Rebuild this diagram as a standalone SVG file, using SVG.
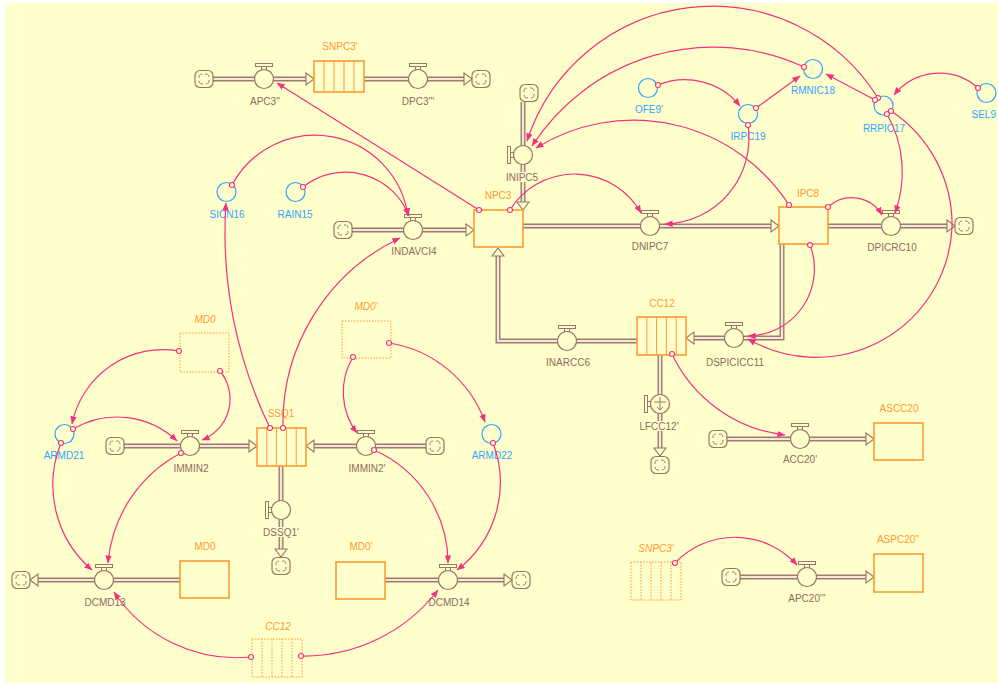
<svg xmlns="http://www.w3.org/2000/svg" xmlns:xlink="http://www.w3.org/1999/xlink" width="998" height="683" viewBox="0 0 998 683">
<style>
.po{fill:none;stroke:#A07A70;stroke-width:5;stroke-linejoin:miter}
.pi{fill:none;stroke:#F4E9D2;stroke-width:2.2;stroke-linejoin:miter}
.vc{fill:#FFFFCC;stroke:#9C7468;stroke-width:1.2}
.hd{fill:#FFFFCC;stroke:#9C7468;stroke-width:1}
.pa{fill:#FFFFCC;stroke:#9C7468;stroke-width:1.1}
.stk{fill:#FFFFCC;stroke:#FF9933;stroke-width:1.6}
.gst{fill:none;stroke:#FF9933;stroke-width:1;stroke-dasharray:1.5 1.5}
.sl{stroke:#FF9933;stroke-width:1}
.gsl{stroke:#FF9933;stroke-width:1;stroke-dasharray:1.5 1.5}
.cv{fill:none;stroke:#33A3FF;stroke-width:1.2}
.con{fill:none;stroke:#F5307F;stroke-width:1.2;marker-end:url(#ah)}
.org{fill:#FFFFCC;stroke:#F5307F;stroke-width:1.1}
text{font-family:"Liberation Sans",Arial,sans-serif;font-size:10px;text-anchor:middle}
.tf{fill:#8F6A62}
.ts{fill:#FF9933}
.tc{fill:#33A3FF}
.tg{fill:#FF9933;font-style:italic}
.lb{fill:#FFFFCC}
</style>
<defs>
<marker id="ah" viewBox="0 0 10 10" refX="9.5" refY="5" markerWidth="8" markerHeight="8" markerUnits="userSpaceOnUse" orient="auto"><path d="M0,1 L10,5 L0,9 z" fill="#F5307F"/></marker>
<g id="cloud"><rect x="-9" y="-8.5" width="18" height="17" rx="5" ry="5" fill="#FFFFCC" stroke="#9C7468" stroke-width="1.2"/><path d="M-5,-1 a3.5,3.5 0 0 1 3,-4 M1,-5 a3.5,3.5 0 0 1 4,3 M5,1 a3.5,3.5 0 0 1 -3,4 M-1,5 a3.5,3.5 0 0 1 -4,-3" fill="none" stroke="#9C7468" stroke-width="1"/></g>
<g id="vt"><rect class="hd" x="-8.5" y="-15.5" width="17" height="3"/><rect class="hd" x="-2.5" y="-12.5" width="5" height="3.5"/><circle class="vc" r="9.5"/></g>
<g id="vl"><rect class="hd" x="-15.5" y="-8.5" width="3" height="17"/><rect class="hd" x="-12.5" y="-2.5" width="3.5" height="5"/><circle class="vc" r="9.5"/></g>
<path id="arr" class="pa" d="M-8,-6 L0,0 L-8,6 z"/>
</defs>
<rect x="0" y="0" width="998" height="683" fill="#FFFFFF"/>
<rect x="5" y="3" width="993" height="680" fill="#FFFFCC"/>

<g id="pipes">
<polyline class="po" points="213,79 308,79"/><polyline class="pi" points="213,79 308,79"/>
<polyline class="po" points="364,79 466,79"/><polyline class="pi" points="364,79 466,79"/>
<polyline class="po" points="352,230 468,230"/><polyline class="pi" points="352,230 468,230"/>
<polyline class="po" points="523,226 773,226"/><polyline class="pi" points="523,226 773,226"/>
<polyline class="po" points="828,226 949,226"/><polyline class="pi" points="828,226 949,226"/>
<polyline class="po" points="782,244 782,338 692,338"/><polyline class="pi" points="782,244 782,338 692,338"/>
<polyline class="po" points="637,341 498,341 498,254"/><polyline class="pi" points="637,341 498,341 498,254"/>
<polyline class="po" points="523,102 523,204"/><polyline class="pi" points="523,102 523,204"/>
<polyline class="po" points="660,355 660,450"/><polyline class="pi" points="660,355 660,450"/>
<polyline class="po" points="727,439 868,439"/><polyline class="pi" points="727,439 868,439"/>
<polyline class="po" points="740,577 868,577"/><polyline class="pi" points="740,577 868,577"/>
<polyline class="po" points="124,446 251,446"/><polyline class="pi" points="124,446 251,446"/>
<polyline class="po" points="426,446 312,446"/><polyline class="pi" points="426,446 312,446"/>
<polyline class="po" points="281,466 281,551"/><polyline class="pi" points="281,466 281,551"/>
<polyline class="po" points="180,580 36,580"/><polyline class="pi" points="180,580 36,580"/>
<polyline class="po" points="385,580 506,580"/><polyline class="pi" points="385,580 506,580"/>
<use xlink:href="#arr" transform="translate(314,79)"/>
<use xlink:href="#arr" transform="translate(472,79)"/>
<use xlink:href="#arr" transform="translate(474,230)"/>
<use xlink:href="#arr" transform="translate(779,226)"/>
<use xlink:href="#arr" transform="translate(955,226)"/>
<use xlink:href="#arr" transform="translate(686,338) rotate(180)"/>
<use xlink:href="#arr" transform="translate(498,248) rotate(-90)"/>
<use xlink:href="#arr" transform="translate(523,210) rotate(90)"/>
<use xlink:href="#arr" transform="translate(660,456) rotate(90)"/>
<use xlink:href="#arr" transform="translate(874,439)"/>
<use xlink:href="#arr" transform="translate(874,577)"/>
<use xlink:href="#arr" transform="translate(257,446)"/>
<use xlink:href="#arr" transform="translate(306,446) rotate(180)"/>
<use xlink:href="#arr" transform="translate(281,557) rotate(90)"/>
<use xlink:href="#arr" transform="translate(30,580) rotate(180)"/>
<use xlink:href="#arr" transform="translate(512,580)"/>
</g>

<g id="clouds">
<use xlink:href="#cloud" x="204" y="79"/>
<use xlink:href="#cloud" x="481" y="79"/>
<use xlink:href="#cloud" x="343" y="230"/>
<use xlink:href="#cloud" x="529" y="93"/>
<use xlink:href="#cloud" x="964" y="226"/>
<use xlink:href="#cloud" x="660" y="465"/>
<use xlink:href="#cloud" x="718" y="439"/>
<use xlink:href="#cloud" x="731" y="577"/>
<use xlink:href="#cloud" x="115" y="446"/>
<use xlink:href="#cloud" x="435" y="446"/>
<use xlink:href="#cloud" x="281" y="566"/>
<use xlink:href="#cloud" x="21" y="580"/>
<use xlink:href="#cloud" x="521" y="580"/>
</g>

<g id="APC3pp"><use xlink:href="#vt" x="264" y="79"/><text class="tf" x="265" y="105">APC3''</text></g>
<g id="DPC3ppp"><use xlink:href="#vt" x="418" y="79"/><text class="tf" x="418" y="105">DPC3'''</text></g>
<g id="INDAVCI4"><use xlink:href="#vt" x="413" y="230"/><text class="tf" x="414" y="255">INDAVCI4</text></g>
<g id="INIPC5"><use xlink:href="#vl" x="523" y="155"/><rect class="lb" x="505" y="172" width="35" height="10"/><text class="tf" x="522" y="181">INIPC5</text></g>
<g id="DNIPC7"><use xlink:href="#vt" x="650" y="226"/><text class="tf" x="650" y="250">DNIPC7</text></g>
<g id="DPICRC10"><use xlink:href="#vt" x="891" y="226"/><text class="tf" x="892" y="251">DPICRC10</text></g>
<g id="DSPICICC11"><use xlink:href="#vt" x="734" y="338"/><text class="tf" x="735" y="366">DSPICICC11</text></g>
<g id="INARCC6"><use xlink:href="#vt" x="567" y="341"/><text class="tf" x="568" y="366">INARCC6</text></g>
<g id="LFCC12p"><use xlink:href="#vl" x="660" y="404"/><path d="M654,402 H666 M660,397 V410 M657,407 L660,410 L663,407" fill="none" stroke="#9C7468" stroke-width="1"/><rect class="lb" x="639" y="421" width="41" height="10"/><text class="tf" x="659" y="430">LFCC12'</text></g>
<g id="ACC20p"><use xlink:href="#vt" x="800" y="439"/><text class="tf" x="800" y="463">ACC20'</text></g>
<g id="APC20ppp"><use xlink:href="#vt" x="807" y="577"/><text class="tf" x="807" y="602">APC20'''</text></g>
<g id="IMMIN2"><use xlink:href="#vt" x="190" y="446"/><text class="tf" x="191" y="472">IMMIN2</text></g>
<g id="IMMIN2p"><use xlink:href="#vt" x="366" y="446"/><text class="tf" x="367" y="472">IMMIN2'</text></g>
<g id="DSSQ1p"><use xlink:href="#vl" x="281" y="510"/><rect class="lb" x="262" y="527" width="38" height="10"/><text class="tf" x="281" y="536">DSSQ1'</text></g>
<g id="DCMD13"><use xlink:href="#vt" x="104" y="580"/><text class="tf" x="105" y="606">DCMD13</text></g>
<g id="DCMD14"><use xlink:href="#vt" x="448" y="580"/><text class="tf" x="449" y="606">DCMD14</text></g>

<g id="SNPC3p"><rect class="stk" x="314" y="61" width="50" height="31"/><path class="sl" d="M324,61V92M334,61V92M344,61V92M354,61V92"/><text class="ts" x="340" y="50">SNPC3'</text></g>
<g id="NPC3"><rect class="stk" x="474" y="210" width="49" height="37"/><text class="ts" x="498" y="199">NPC3</text></g>
<g id="IPC8"><rect class="stk" x="779" y="207" width="49" height="37"/><text class="ts" x="808" y="197">IPC8</text></g>
<g id="CC12"><rect class="stk" x="637" y="317" width="49" height="38"/><path class="sl" d="M646.8,317V355M656.6,317V355M666.4,317V355M676.2,317V355"/><text class="ts" x="662" y="307">CC12</text></g>
<g id="ASCC20"><rect class="stk" x="874" y="423" width="49" height="37"/><text class="ts" x="899" y="412">ASCC20</text></g>
<g id="ASPC20pp"><rect class="stk" x="874" y="554" width="49" height="38"/><text class="ts" x="898" y="543">ASPC20''</text></g>
<g id="SNPC3p_ghost"><rect class="gst" x="631" y="562" width="50" height="38"/><path class="gsl" d="M641,562V600M651,562V600M661,562V600M671,562V600"/><text class="tg" x="656" y="552">SNPC3'</text></g>
<g id="SSQ1"><rect class="stk" x="257" y="428" width="49" height="38"/><path class="sl" d="M266.8,428V466M276.6,428V466M286.4,428V466M296.2,428V466"/><text class="ts" x="281" y="417">SSQ1</text></g>
<g id="MD0_ghost"><rect class="gst" x="180" y="333" width="49" height="39"/><text class="tg" x="205" y="323">MD0</text></g>
<g id="MD0p_ghost"><rect class="gst" x="342" y="321" width="49" height="37"/><text class="tg" x="366" y="310">MD0'</text></g>
<g id="MD0"><rect class="stk" x="180" y="561" width="49" height="37"/><text class="ts" x="205" y="550">MD0</text></g>
<g id="MD0p"><rect class="stk" x="336" y="562" width="49" height="37"/><text class="ts" x="361" y="550">MD0'</text></g>
<g id="CC12_ghost"><rect class="gst" x="252" y="639" width="50" height="38"/><path class="gsl" d="M262,639V677M272,639V677M282,639V677M292,639V677"/><text class="tg" x="278" y="630">CC12</text></g>

<g id="SICN16"><circle class="cv" cx="226.5" cy="192" r="9.5"/><text class="tc" x="227" y="218">SICN16</text></g>
<g id="RAIN15"><circle class="cv" cx="295.5" cy="192" r="9.5"/><text class="tc" x="295" y="218">RAIN15</text></g>
<g id="OFE9p"><circle class="cv" cx="648" cy="88" r="9.5"/><text class="tc" x="649" y="113">OFE9'</text></g>
<g id="IRPC19"><circle class="cv" cx="748" cy="114" r="9.5"/><text class="tc" x="748" y="140">IRPC19</text></g>
<g id="RMNIC18"><circle class="cv" cx="813" cy="69" r="9.5"/><text class="tc" x="813" y="94">RMNIC18</text></g>
<g id="RRPIC17"><circle class="cv" cx="883.5" cy="105.5" r="9.5"/><text class="tc" x="884" y="132">RRPIC17</text></g>
<g id="SEL9"><circle class="cv" cx="986.5" cy="93" r="9.5"/><text class="tc" x="996" y="118" style="text-anchor:end">SEL9</text></g>
<g id="ARMD21"><circle class="cv" cx="64.5" cy="434" r="9.5"/><text class="tc" x="64" y="459">ARMD21</text></g>
<g id="ARMD22"><circle class="cv" cx="491.5" cy="434" r="9.5"/><text class="tc" x="492" y="459">ARMD22</text></g>

<g id="connectors">
<path class="con" d="M479,210 L277,83"/>
<path class="con" d="M510,210 A76,76 0 0,1 641,213"/>
<path class="con" d="M232,185 A94,94 0 0,1 408,216"/>
<path class="con" d="M303,187 A68,68 0 0,1 409,216"/>
<path class="con" d="M283,428 A205,205 0 0,1 400,238"/>
<path class="con" d="M270,428 A445,445 0 0,1 226,203"/>
<path class="con" d="M789,205 A185,185 0 0,0 536,148"/>
<path class="con" d="M878,98 A195,195 0 0,0 527,141"/>
<path class="con" d="M804,67 A216,216 0 0,0 532,146"/>
<path class="con" d="M658,85 A71,71 0 0,1 740,106"/>
<path class="con" d="M756,108 L800,76"/>
<path class="con" d="M875,100 L826,74"/>
<path class="con" d="M748,125 A86,86 0 0,1 665,224"/>
<path class="con" d="M978,88 A58,58 0 0,0 894,95"/>
<path class="con" d="M887,114 A118,118 0 0,1 895,213"/>
<path class="con" d="M891,111 A136,136 0 0,1 952,228 A136,136 0 0,1 748,339"/>
<path class="con" d="M810,245 A67,67 0 0,1 748,336"/>
<path class="con" d="M828,207 A35,35 0 0,1 882,215"/>
<path class="con" d="M672,354 A143,143 0 0,0 785,435"/>
<path class="con" d="M675,563 A83,83 0 0,1 797,565"/>
<path class="con" d="M179,351 A93,93 0 0,0 72,424"/>
<path class="con" d="M73,429 A87,87 0 0,1 177,441"/>
<path class="con" d="M220,371 A44,44 0 0,1 202,440"/>
<path class="con" d="M61,443 A112,112 0 0,0 92,570"/>
<path class="con" d="M181,453 A137,137 0 0,0 108,563"/>
<path class="con" d="M251,657 A147,147 0 0,1 114,592"/>
<path class="con" d="M301,656 A169,169 0 0,0 438,590"/>
<path class="con" d="M374,450 A124,124 0 0,1 448,563"/>
<path class="con" d="M493,443 A110,110 0 0,1 457,570"/>
<path class="con" d="M353,357 A68,68 0 0,0 357,433"/>
<path class="con" d="M389,343 A122,122 0 0,1 485,422"/>
<circle class="org" cx="479" cy="210" r="2.5"/>
<circle class="org" cx="510" cy="210" r="2.5"/>
<circle class="org" cx="232" cy="185" r="2.5"/>
<circle class="org" cx="303" cy="187" r="2.5"/>
<circle class="org" cx="283" cy="428" r="2.5"/>
<circle class="org" cx="270" cy="428" r="2.5"/>
<circle class="org" cx="789" cy="205" r="2.5"/>
<circle class="org" cx="878" cy="98" r="2.5"/>
<circle class="org" cx="804" cy="67" r="2.5"/>
<circle class="org" cx="658" cy="85" r="2.5"/>
<circle class="org" cx="756" cy="108" r="2.5"/>
<circle class="org" cx="875" cy="100" r="2.5"/>
<circle class="org" cx="748" cy="125" r="2.5"/>
<circle class="org" cx="978" cy="88" r="2.5"/>
<circle class="org" cx="887" cy="114" r="2.5"/>
<circle class="org" cx="891" cy="111" r="2.5"/>
<circle class="org" cx="810" cy="245" r="2.5"/>
<circle class="org" cx="828" cy="207" r="2.5"/>
<circle class="org" cx="672" cy="354" r="2.5"/>
<circle class="org" cx="675" cy="563" r="2.5"/>
<circle class="org" cx="179" cy="351" r="2.5"/>
<circle class="org" cx="73" cy="429" r="2.5"/>
<circle class="org" cx="220" cy="371" r="2.5"/>
<circle class="org" cx="61" cy="443" r="2.5"/>
<circle class="org" cx="181" cy="453" r="2.5"/>
<circle class="org" cx="251" cy="657" r="2.5"/>
<circle class="org" cx="301" cy="656" r="2.5"/>
<circle class="org" cx="374" cy="450" r="2.5"/>
<circle class="org" cx="493" cy="443" r="2.5"/>
<circle class="org" cx="353" cy="357" r="2.5"/>
<circle class="org" cx="389" cy="343" r="2.5"/>
</g>
</svg>
